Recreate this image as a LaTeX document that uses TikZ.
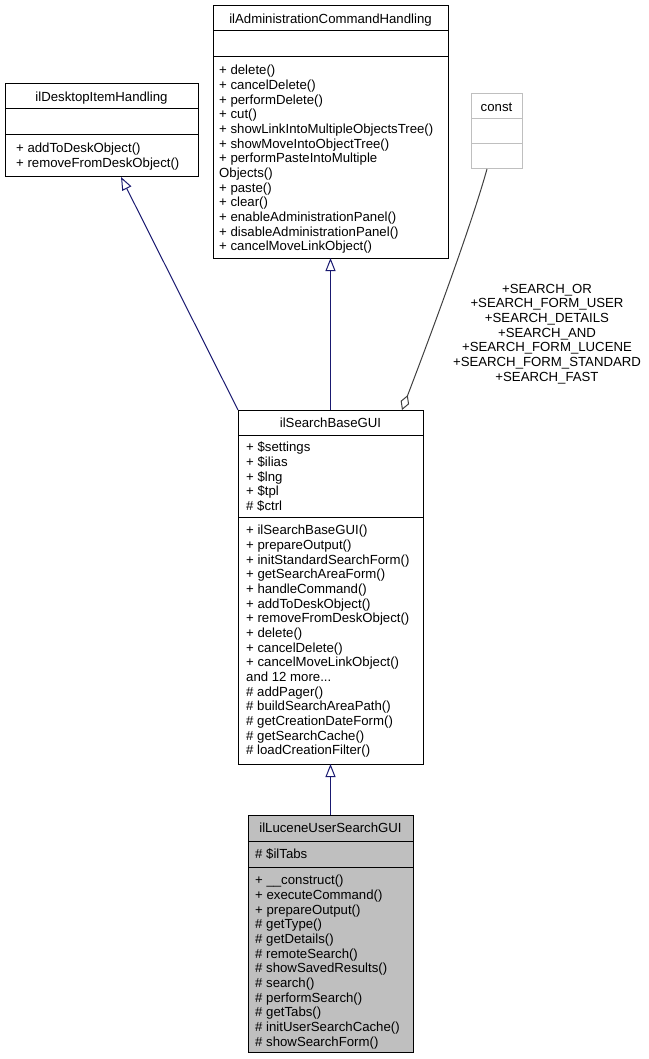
\documentclass[tikz,border=0pt]{standalone}
\usepackage{fontspec}
\setmainfont{Liberation Sans}
\usetikzlibrary{arrows.meta}
\definecolor{inhcol}{HTML}{191970}
\definecolor{usecol}{HTML}{404040}
\definecolor{constgray}{HTML}{BFBFBF}
\definecolor{boxfill}{HTML}{BFBFBF}
\newcommand\mstrut{\rule{0pt}{10.2pt}}
\begin{document}
\begin{tikzpicture}[x=1pt,y=-1pt, font=\fontsize{13.2}{14.67}\selectfont,
 box/.style={draw=black, line width=1pt, inner sep=0, outer sep=0},
 sepline/.style={draw=black, line width=1pt},
 ttl/.style={anchor=base, inner sep=0},
 mem/.style={anchor=north west, inner sep=0, align=left},
 inh/.style={draw=inhcol, line width=1pt, -{Triangle[open, length=13pt, width=10pt]}},
 use/.style={draw=usecol, line width=1pt, -{Diamond[open, length=16pt, width=9pt]}},
 lbl/.style={align=center, anchor=north, inner sep=0}]
\useasboundingbox (0,0) rectangle (648,1059);

% ilDesktopItemHandling
\node[box, minimum width=193pt, minimum height=93pt] (desk) at (101.5,130.5) {};
\draw[sepline] (5,109) -- (198,109);
\draw[sepline] (5,135) -- (198,135);
\node[ttl] (deskT) at (101.5,101.6) {ilDesktopItemHandling};
\node[mem] (deskM) at (16,142.4) {\mstrut+ addToDeskObject()\\+ removeFromDeskObject()};

% ilAdministrationCommandHandling
\node[box, minimum width=235pt, minimum height=252pt] (adm) at (330.5,132) {};
\draw[sepline] (213,31) -- (448,31);
\draw[sepline] (213,57) -- (448,57);
\node[ttl] (admT) at (330.5,23.1) {ilAdministrationCommandHandling};
\node[mem] (admM) at (219,64.4) {\mstrut+ delete()\\+ cancelDelete()\\+ performDelete()\\+ cut()\\+ showLinkIntoMultipleObjectsTree()\\+ showMoveIntoObjectTree()\\+ performPasteIntoMultiple\\Objects()\\+ paste()\\+ clear()\\+ enableAdministrationPanel()\\+ disableAdministrationPanel()\\+ cancelMoveLinkObject()};

% const
\node[box, draw=constgray, minimum width=51pt, minimum height=75pt] (const) at (496.5,131.5) {};
\draw[sepline, draw=constgray] (471,119) -- (522,119);
\draw[sepline, draw=constgray] (471,144) -- (522,144);
\node[ttl] (constT) at (496.5,111.1) {const};

% ilSearchBaseGUI
\node[box, minimum width=185pt, minimum height=354pt] (sb) at (330.5,587) {};
\draw[sepline] (238,435) -- (423,435);
\draw[sepline] (238,517) -- (423,517);
\node[ttl] (sbT) at (330.5,427.1) {ilSearchBaseGUI};
\node[mem] (sbA) at (246,441.4) {\mstrut+ \$settings\\+ \$ilias\\+ \$lng\\+ \$tpl\\\# \$ctrl};
\node[mem] (sbM) at (246,524.4) {\mstrut+ ilSearchBaseGUI()\\+ prepareOutput()\\+ initStandardSearchForm()\\+ getSearchAreaForm()\\+ handleCommand()\\+ addToDeskObject()\\+ removeFromDeskObject()\\+ delete()\\+ cancelDelete()\\+ cancelMoveLinkObject()\\and 12 more...\\\# addPager()\\\# buildSearchAreaPath()\\\# getCreationDateForm()\\\# getSearchCache()\\\# loadCreationFilter()};

% ilLuceneUserSearchGUI
\node[box, fill=boxfill, minimum width=165pt, minimum height=237pt] (luc) at (330.5,933.5) {};
\draw[sepline] (248,841) -- (413,841);
\draw[sepline] (248,867) -- (413,867);
\node[ttl] (lucT) at (330.5,832.6) {ilLuceneUserSearchGUI};
\node[mem] (lucA) at (255,848.4) {\mstrut\# \$ilTabs};
\node[mem] (lucM) at (255,874.4) {\mstrut+ \_\_construct()\\+ executeCommand()\\+ prepareOutput()\\\# getType()\\\# getDetails()\\\# remoteSearch()\\\# showSavedResults()\\\# search()\\\# performSearch()\\\# getTabs()\\\# initUserSearchCache()\\\# showSearchForm()};

% connectors
\draw[inh] (sb.north west) -- ([xshift=19.5pt]desk.south);
\draw[inh] (sb.north) -- (adm.south);
\draw[inh] (luc.north) -- (sb.south);
\draw[use] ([xshift=-9.5pt]const.south) .. controls (470,230) and (425,350) .. ([xshift=71.5pt]sb.north);
\node[lbl] (constL) at (547,282.9) {\mstrut+SEARCH\_OR\\+SEARCH\_FORM\_USER\\+SEARCH\_DETAILS\\+SEARCH\_AND\\+SEARCH\_FORM\_LUCENE\\+SEARCH\_FORM\_STANDARD\\+SEARCH\_FAST};
\end{tikzpicture}
\end{document}
